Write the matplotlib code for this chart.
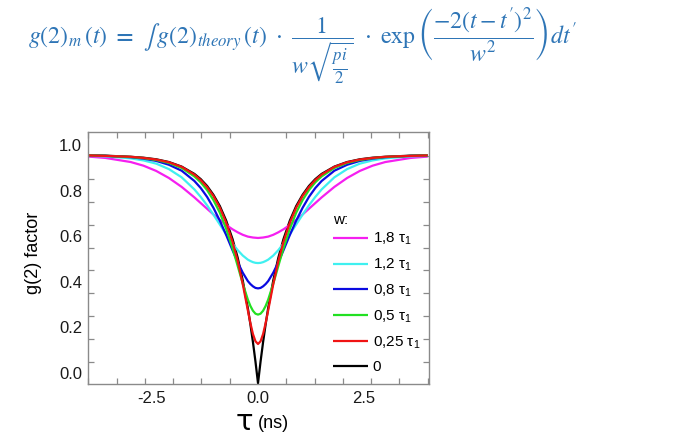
import numpy as np
import matplotlib
matplotlib.use("Agg")
import matplotlib.pyplot as plt

plt.rcParams["font.family"] = ["Liberation Sans", "DejaVu Sans"]
plt.rcParams["mathtext.fontset"] = "custom"
plt.rcParams["mathtext.rm"] = "Liberation Sans"
plt.rcParams["mathtext.it"] = "Liberation Sans:italic"

# right half (curves are symmetric about tau = 0)
tau_half = [0.0, 0.06, 0.12, 0.18, 0.24, 0.36, 0.48, 0.60, 0.75, 0.90, 1.05,
            1.20, 1.35, 1.50, 1.80, 2.10, 2.40, 2.70, 3.00, 3.60, 4.00]
g_w0 = [-0.045, 0.050, 0.136, 0.214, 0.285, 0.406, 0.506, 0.587, 0.668, 0.732, 0.781,
        0.820, 0.850, 0.873, 0.905, 0.925, 0.937, 0.944, 0.948, 0.953, 0.954]
g_w025 = [0.127, 0.139, 0.171, 0.219, 0.275, 0.390, 0.492, 0.575, 0.659, 0.725, 0.776,
          0.815, 0.846, 0.870, 0.904, 0.924, 0.936, 0.943, 0.948, 0.952, 0.954]
g_w05 = [0.256, 0.260, 0.273, 0.294, 0.322, 0.392, 0.470, 0.547, 0.632, 0.703, 0.758,
         0.802, 0.836, 0.862, 0.899, 0.921, 0.934, 0.942, 0.947, 0.952, 0.954]
g_w08 = [0.371, 0.373, 0.380, 0.390, 0.403, 0.440, 0.486, 0.538, 0.605, 0.668, 0.724,
         0.772, 0.811, 0.842, 0.887, 0.913, 0.930, 0.940, 0.946, 0.952, 0.953]
g_w12 = [0.482, 0.483, 0.486, 0.491, 0.497, 0.515, 0.539, 0.568, 0.608, 0.651, 0.694,
         0.735, 0.772, 0.805, 0.858, 0.894, 0.918, 0.932, 0.941, 0.950, 0.952]
g_w18 = [0.592, 0.593, 0.594, 0.596, 0.598, 0.606, 0.617, 0.630, 0.649, 0.671, 0.695,
         0.720, 0.745, 0.770, 0.816, 0.855, 0.886, 0.909, 0.925, 0.943, 0.949]

labels = ["1,8 τ$_1$", "1,2 τ$_1$", "0,8 τ$_1$", "0,5 τ$_1$", "0,25 τ$_1$", "0"]
colors = ["#f51ff0", "#3ff0f0", "#0a0ae0", "#22e022", "#f01414", "#000000"]
series = [g_w18, g_w12, g_w08, g_w05, g_w025, g_w0]

x_ticklabels = [-2.5, 0.0, 2.5]
y_ticklabels = [0.0, 0.2, 0.4, 0.6, 0.8, 1.0]

FORMULA_C = "#2e75b6"
SPINE_C = "#8a8a8a"


def mirror(v):
    v = np.asarray(v, float)
    return np.concatenate([v[:0:-1], v])


t = np.concatenate([-np.asarray(tau_half)[:0:-1], tau_half])

fig = plt.figure(figsize=(6.89, 4.44), dpi=100)
W, H = 689, 444
ax = fig.add_axes([88.3 / W, (H - 383.7) / H, (429 - 88.3) / W, (383.7 - 131.7) / H])

# black first so the coloured curves sit on top of it
order = [5, 0, 1, 2, 3, 4]
handles = {}
for i in order:
    ln, = ax.plot(t, mirror(series[i]), color=colors[i], lw=1.6, label=labels[i],
                  solid_capstyle="butt")
    handles[i] = ln

ax.set_xlim(-4.0, 4.03)
ax.set_ylim(-0.047, 1.058)

# labelled positions carry no marks; the marks sit on their own grid (as in the original)
ax.set_xticks(x_ticklabels)
ax.set_xticklabels([f"{v:.1f}" for v in x_ticklabels])
ax.set_yticks(y_ticklabels)
ax.set_yticklabels([f"{v:.1f}" for v in y_ticklabels])
ax.set_xticks(np.arange(-4, 4.01, 2 / 3), minor=True)
ax.set_yticks(np.arange(0.05, 1.0, 0.1), minor=True)
ax.tick_params(which="major", length=0, labelsize=12, colors="#1a1a1a")
ax.tick_params(axis="x", which="major", pad=5)
ax.tick_params(axis="y", which="major", pad=4.5)
ax.tick_params(which="minor", direction="in", length=4, width=0.9, color=SPINE_C,
               top=True, right=True)
for s in ax.spines.values():
    s.set_color(SPINE_C)
    s.set_linewidth(1.0)

ax.set_ylabel("g(2) factor", fontsize=13)
ax.yaxis.set_label_coords(-0.135, 0.52)
ax.text(0.459, -0.153, "τ", transform=ax.transAxes, fontsize=21, ha="center",
        va="center", family="DejaVu Sans")
ax.text(0.497, -0.158, "(ns)", transform=ax.transAxes, fontsize=13, ha="left",
        va="center")

# legend heading drawn on its own so the row spacing can follow the original
fig.text(333 / W, 1 - 220 / H, "w:", fontsize=11, ha="left", va="center")
leg = ax.legend([handles[i] for i in range(6)], labels, loc="upper left",
                bbox_to_anchor=(333 / W, 1 - 231 / H), bbox_transform=fig.transFigure,
                frameon=False, fontsize=11, handlelength=2.3,
                handletextpad=0.3, labelspacing=0.62, borderpad=0, borderaxespad=0)

formula = (r"$g(2)_m\,(t)\ \mathbf{=}\ \int\, g(2)_{theory}\,(t)\ \cdot\ "
           r"\dfrac{1}{w\sqrt{\frac{pi}{2}}}\ \cdot\ \exp\left(\dfrac{-2\left(t-t^{\prime}\right)^2}"
           r"{w^2}\right)dt^{\prime}$")
fig.text(28 / W, 1 - 46 / H, formula, fontsize=17.2, color=FORMULA_C, ha="left",
         va="center", math_fontfamily="stix")

fig.savefig("out.png", dpi=100, facecolor="white")
